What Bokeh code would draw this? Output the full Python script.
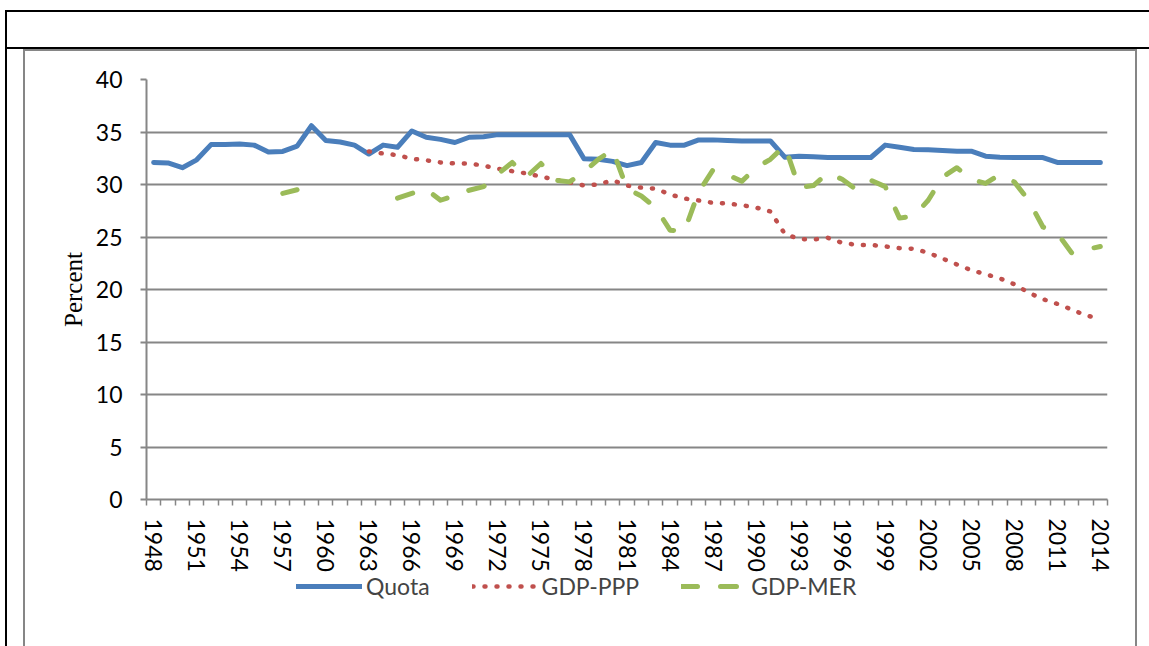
import numpy as np
from bokeh.plotting import figure
from bokeh.layouts import column
from bokeh.models import Range1d, FixedTicker, Legend, LegendItem, ColumnDataSource
from bokeh.embed import file_html
from bokeh.resources import INLINE

nan = float("nan")

years = list(range(1948, 2015))
tick_years = [1948, 1951, 1954, 1957, 1960, 1963, 1966, 1969, 1972, 1975, 1978, 1981,
              1984, 1987, 1990, 1993, 1996, 1999, 2002, 2005, 2008, 2011, 2014]
y_ticks = [0, 5, 10, 15, 20, 25, 30, 35, 40]

quota = [32.1, 32.05, 31.6, 32.35, 33.8, 33.8, 33.85, 33.75, 33.1, 33.15,
         33.65, 35.6, 34.2, 34.05, 33.75, 32.9, 33.75, 33.55, 35.1, 34.5,
         34.3, 34.0, 34.5, 34.55, 34.75, 34.75, 34.75, 34.75, 34.75, 34.75,
         32.45, 32.4, 32.2, 31.8, 32.1, 34.0, 33.75, 33.75, 34.25, 34.25,
         34.2, 34.15, 34.15, 34.15, 32.6, 32.7, 32.65, 32.57, 32.57, 32.57,
         32.57, 33.75, 33.55, 33.33, 33.3, 33.24, 33.17, 33.17, 32.7, 32.6,
         32.57, 32.57, 32.57, 32.1, 32.1, 32.1, 32.1]

gdp_ppp = [nan, nan, nan, nan, nan, nan, nan, nan, nan, nan,
           nan, nan, nan, nan, nan, 33.15, 32.95, 32.8, 32.45, 32.3,
           32.1, 32.0, 32.0, 31.8, 31.5, 31.27, 31.05, 30.76, 30.45, 30.2,
           29.9, 30.0, 30.4, 29.9, 29.7, 29.6, 29.05, 28.67, 28.48, 28.25,
           28.19, 28.03, 27.8, 27.43, 25.3, 24.8, 24.76, 24.92, 24.45, 24.25,
           24.25, 24.1, 23.94, 23.87, 23.5, 22.95, 22.38, 21.84, 21.46, 21.05,
           20.5, 19.7, 19.08, 18.63, 18.1, 17.52, 17.24]

gdp_mer = [nan, nan, nan, nan, nan, nan, nan, nan, nan, 29.15,
           29.5, nan, nan, nan, nan, nan, nan, 28.7, 29.15, 29.55,
           28.5, 28.95, 29.45, 29.8, 31.0, 32.1, 30.75, 32.0, 30.4, 30.25,
           31.2, 32.4, 33.3, 29.6, 28.9, 27.8, 25.65, 25.55, 29.3, 31.4,
           30.95, 30.3, 31.6, 32.4, 33.7, 29.7, 29.9, 31.1, 30.5, 29.5,
           30.4, 29.8, 26.8, 27.0, 28.5, 30.7, 31.6, 30.5, 30.1, 30.95,
           30.25, 28.5, 25.95, 25.35, 23.5, 23.8, 24.1]

series_names = ["Quota", "GDP-PPP", "GDP-MER"]
series_cols = ["quota", "ppp", "mer"]

src = ColumnDataSource(dict(year=years,
                            quota=np.array(quota, dtype=float),
                            ppp=np.array(gdp_ppp, dtype=float),
                            mer=np.array(gdp_mer, dtype=float)))

STYLES = [dict(line_color="#4A7EBB", line_width=5, line_join="round", line_cap="round"),
          dict(line_color="#C0504D", line_width=4.5, line_dash="1 11",
               line_join="round", line_cap="round"),
          dict(line_color="#9BBB59", line_width=5, line_dash="16 23",
               line_join="round", line_cap="round")]

GRAY = "#868686"
FONT = "Lato"

# ---------------- main chart ----------------
p = figure(frame_width=961, frame_height=420, output_backend="svg", toolbar_location=None,
           x_range=Range1d(years[0] - 0.5, years[-1] + 0.5),
           y_range=Range1d(0, 40),
           min_border_left=146, min_border_right=42,
           min_border_top=79, min_border_bottom=69)
p.outline_line_color = None
p.background_fill_color = "white"
p.border_fill_color = None

ya = p.yaxis[0]
ya.ticker = FixedTicker(ticks=y_ticks)
ya.axis_line_color = GRAY
ya.axis_line_width = 2
ya.major_tick_line_color = GRAY
ya.major_tick_line_width = 2
ya.major_tick_out = 6
ya.major_tick_in = 0
ya.minor_tick_line_color = None
ya.major_label_text_font = FONT
ya.major_label_text_font_size = "23px"
ya.major_label_text_color = "black"
ya.major_label_standoff = 18
ya.axis_label = "Percent"
ya.axis_label_text_font = "Liberation Serif"
ya.axis_label_text_font_size = "25px"
ya.axis_label_text_font_style = "normal"
ya.axis_label_text_color = "black"
ya.axis_label_standoff = 6

xa = p.xaxis[0]
xa.ticker = FixedTicker(ticks=tick_years,
                        minor_ticks=[y - 0.5 for y in years] + [years[-1] + 0.5])
xa.major_label_overrides = {t: str(t) for t in tick_years}
xa.axis_line_color = GRAY
xa.axis_line_width = 2
xa.major_tick_line_color = None
xa.major_tick_out = 0
xa.major_tick_in = 0
xa.minor_tick_line_color = GRAY
xa.minor_tick_line_width = 1.5
xa.minor_tick_out = 6
xa.minor_tick_in = 0
xa.major_label_orientation = "vertical"
xa.major_label_text_font = FONT
xa.major_label_text_font_size = "23px"
xa.major_label_text_color = "black"
xa.major_label_standoff = 13

p.xgrid.visible = False
p.ygrid.ticker = FixedTicker(ticks=y_ticks)
p.ygrid.grid_line_color = GRAY
p.ygrid.grid_line_width = 2

for col, st in zip(series_cols, STYLES):
    p.line("year", col, source=src, **st)

# ---------------- legend strip (same series, shown only as legend swatches) -------
p2 = figure(width=1149, height=78, output_backend="svg", toolbar_location=None,
            x_range=Range1d(0, 1), y_range=Range1d(100, 101),
            x_axis_location=None, y_axis_location=None, min_border=0)
p2.outline_line_color = None
p2.background_fill_color = None
p2.border_fill_color = None
p2.grid.visible = False

items = []
for name, col, st in zip(series_names, series_cols, STYLES):
    r = p2.line("year", col, source=src, **st)
    items.append(LegendItem(label=name, renderers=[r]))

legend = Legend(items=items, orientation="horizontal", location=(150, 52),
                glyph_width=66, glyph_height=20, label_standoff=4, spacing=42,
                padding=0, margin=0, label_text_font=FONT,
                label_text_font_size="23px", border_line_color=None,
                background_fill_alpha=0)
p2.add_layout(legend, "center")

# document table / chart-object frame lines, drawn as CSS backgrounds of the page block
layout = column(p, p2, spacing=0)
layout.styles = {
    "background-color": "white",
    "background-image": ", ".join(["linear-gradient(#000,#000)"] * 3 +
                                  ["linear-gradient(#868686,#868686)"] * 3),
    "background-position": "5px 10px, 5px 47px, 5px 10px, 23px 49px, 23px 49px, 1135px 49px",
    "background-size": "1144px 2px, 1144px 2px, 2px 636px, 1114px 2px, 2px 597px, 2px 597px",
    "background-repeat": "no-repeat",
}

open("out.html", "w").write(file_html(layout, INLINE))
